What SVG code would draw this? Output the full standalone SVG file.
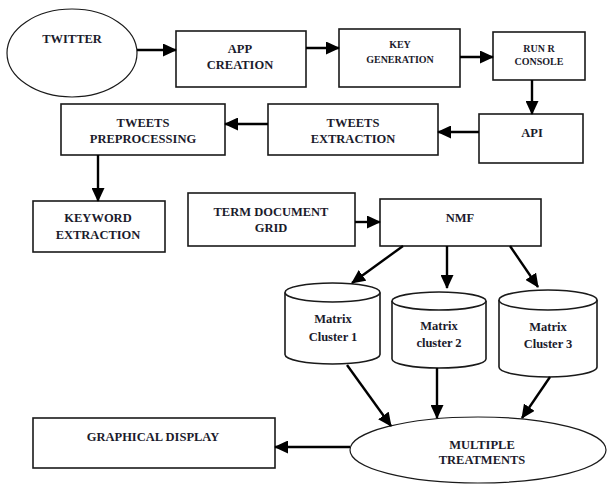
<svg xmlns="http://www.w3.org/2000/svg" width="608" height="485" viewBox="0 0 608 485">
<style>
.b{fill:#fff;stroke:#1a1a1a;stroke-width:1.6}
.t{font-family:"Liberation Serif","Times New Roman",serif;font-weight:bold;font-size:12.5px;fill:#1b1b2c;text-anchor:middle}
.s{font-size:10px}
.c{stroke:#000;stroke-width:2.4;fill:none;marker-end:url(#ah)}
</style>
<defs>
<marker id="ah" markerUnits="userSpaceOnUse" markerWidth="14" markerHeight="13" refX="13" refY="6.5" orient="auto"><path d="M0,0 L14,6.5 L0,13 z" fill="#000"/></marker>
</defs>
<g id="twitter"><ellipse class="b" cx="72" cy="53" rx="65" ry="44" style="stroke-width:1.2"/><text class="t" x="72" y="43">TWITTER</text></g>
<g id="app"><rect class="b" x="176" y="31" width="130" height="56"/><text class="t" x="240" y="53">APP</text><text class="t" x="240" y="69">CREATION</text></g>
<g id="key"><rect class="b" x="339" y="29" width="121" height="58"/><text class="t s" x="400" y="48">KEY</text><text class="t s" x="400" y="63">GENERATION</text></g>
<g id="runr"><rect class="b" x="493" y="32" width="92" height="48"/><text class="t s" x="539" y="52">RUN R</text><text class="t s" x="539" y="65">CONSOLE</text></g>
<g id="api"><rect class="b" x="479" y="114" width="104" height="49"/><text class="t" x="532" y="137">API</text></g>
<g id="extract"><rect class="b" x="268" y="104" width="170" height="51"/><text class="t" x="353" y="127">TWEETS</text><text class="t" x="353" y="143">EXTRACTION</text></g>
<g id="prep"><rect class="b" x="61" y="104" width="164" height="51"/><text class="t" x="143" y="127">TWEETS</text><text class="t" x="143" y="143">PREPROCESSING</text></g>
<g id="keyword"><rect class="b" x="33" y="201" width="132" height="51"/><text class="t" x="98" y="222">KEYWORD</text><text class="t" x="98" y="239">EXTRACTION</text></g>
<g id="tdg"><rect class="b" x="188" y="193" width="167" height="53"/><text class="t" x="271" y="216">TERM DOCUMENT</text><text class="t" x="271" y="232">GRID</text></g>
<g id="nmf"><rect class="b" x="380" y="199" width="161" height="47"/><text class="t" x="460" y="222">NMF</text></g>
<g id="cluster1"><path class="b" d="M285,292.5 L285,354.5 A47.5,9.5 0 0 0 380,354.5 L380,292.5"/><ellipse class="b" cx="332.5" cy="292.5" rx="47.5" ry="9.5"/><text class="t" x="333" y="323">Matrix</text><text class="t" x="333" y="341">Cluster 1</text></g>
<g id="cluster2"><path class="b" d="M392,301 L392,359 A47,9 0 0 0 486,359 L486,301"/><ellipse class="b" cx="439" cy="301" rx="47" ry="9"/><text class="t" x="439" y="330">Matrix</text><text class="t" x="439" y="347">cluster 2</text></g>
<g id="cluster3"><path class="b" d="M499,300 L499,367 A49,10 0 0 0 597,367 L597,300"/><ellipse class="b" cx="548" cy="300" rx="49" ry="10"/><text class="t" x="548" y="331">Matrix</text><text class="t" x="548" y="348">Cluster 3</text></g>
<g id="graphical"><rect class="b" x="33" y="418" width="242" height="50"/><text class="t" x="153" y="441">GRAPHICAL DISPLAY</text></g>
<g id="multiple"><ellipse class="b" cx="478" cy="450" rx="128" ry="33" style="stroke-width:1.2"/><text class="t" x="482" y="449">MULTIPLE</text><text class="t" x="482" y="464">TREATMENTS</text></g>
<g id="connectors">
<line class="c" x1="137" y1="50" x2="176" y2="50"/>
<line class="c" x1="306" y1="48" x2="339" y2="48"/>
<line class="c" x1="460" y1="57" x2="493" y2="57"/>
<line class="c" x1="532" y1="80" x2="532" y2="114"/>
<line class="c" x1="479" y1="132" x2="438" y2="132"/>
<line class="c" x1="268" y1="124" x2="225" y2="124"/>
<line class="c" x1="98" y1="155" x2="98" y2="201"/>
<line class="c" x1="355" y1="222" x2="380" y2="222"/>
<line class="c" x1="403" y1="246" x2="352" y2="283"/>
<line class="c" x1="447" y1="246" x2="447" y2="288"/>
<line class="c" x1="510" y1="246" x2="538" y2="287"/>
<line class="c" x1="347" y1="365" x2="391" y2="426"/>
<line class="c" x1="437" y1="368" x2="437" y2="418"/>
<line class="c" x1="550" y1="377" x2="522" y2="418"/>
<line class="c" x1="350" y1="447" x2="275" y2="447"/>
</g>
</svg>
